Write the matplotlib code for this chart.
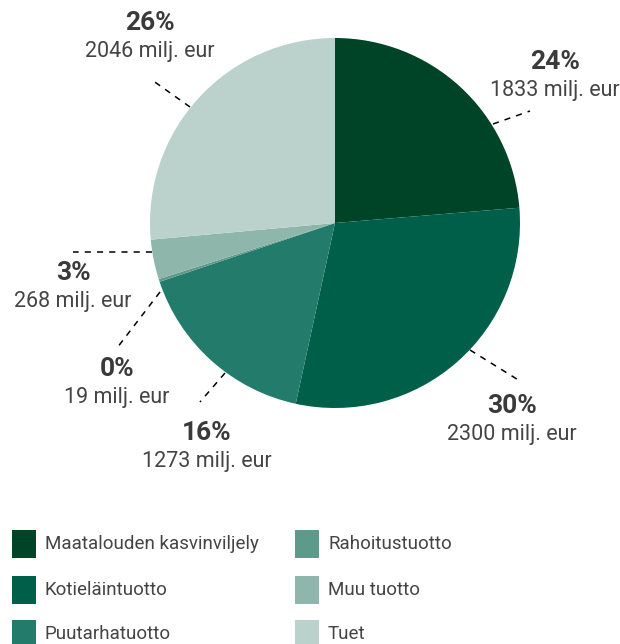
import matplotlib.pyplot as plt
from matplotlib.patches import Rectangle

plt.rcParams['font.family'] = ['Roboto', 'DejaVu Sans']

# data
categories = ['Maatalouden kasvinviljely', 'Kotieläintuotto', 'Puutarhatuotto',
              'Rahoitustuotto', 'Muu tuotto', 'Tuet']
values = [1833, 2300, 1273, 19, 268, 2046]
percents = ['24%', '30%', '16%', '0%', '3%', '26%']
colors = ['#004428', '#005f48', '#237c6b', '#5e9a8a', '#8fb6ab', '#bad2cb']

# label layout (pixel coords): text centre, leader line start/end
label_pos = [(555, 62), (512, 406), (207, 433), (117, 369), (73, 273), (150, 23)]
leaders = [((493, 124), (530, 111)), ((470, 350), (520, 381)), ((225, 373), (200, 402)),
           ((160, 292), (117, 348)), ((152, 252), (73, 252)), ((190, 107), (152, 80))]

fig = plt.figure(figsize=(6.2, 6.44), dpi=100)
ax = fig.add_axes([0, 0, 1, 1])

# y axis is inverted below, so counterclockwise in data = clockwise on screen
ax.pie(values, colors=colors, startangle=-90, counterclock=True,
       center=(335, 223), radius=185, wedgeprops=dict(linewidth=0))
ax.set_xlim(0, 620)
ax.set_ylim(644, 0)
ax.set_aspect('auto')
ax.axis('off')

text_col = '#444444'
for (x, y), (p0, p1), pct, val in zip(label_pos, leaders, percents, values):
    ax.plot([p0[0], p1[0]], [p0[1], p1[1]], color='black', lw=1.1,
            linestyle=(0, (4, 4)))
    ax.text(x, y, pct, ha='center', va='center', fontsize=19, fontweight='bold',
            color='#3a3a3a')
    ax.text(x, y + 28, f'{val} milj. eur', ha='center', va='center',
            fontsize=15.5, color=text_col)

# legend
col_x = [12, 295]
row_y = [544, 590, 634]
for i, (name, c) in enumerate(zip(categories, colors)):
    cx = col_x[i // 3]
    cy = row_y[i % 3]
    ax.add_patch(Rectangle((cx, cy - 14), 24, 28, facecolor=c, edgecolor='none',
                           clip_on=False))
    ax.text(cx + 33, cy, name, ha='left', va='center', fontsize=13.5, color=text_col)

fig.savefig('out.png', dpi=100)
